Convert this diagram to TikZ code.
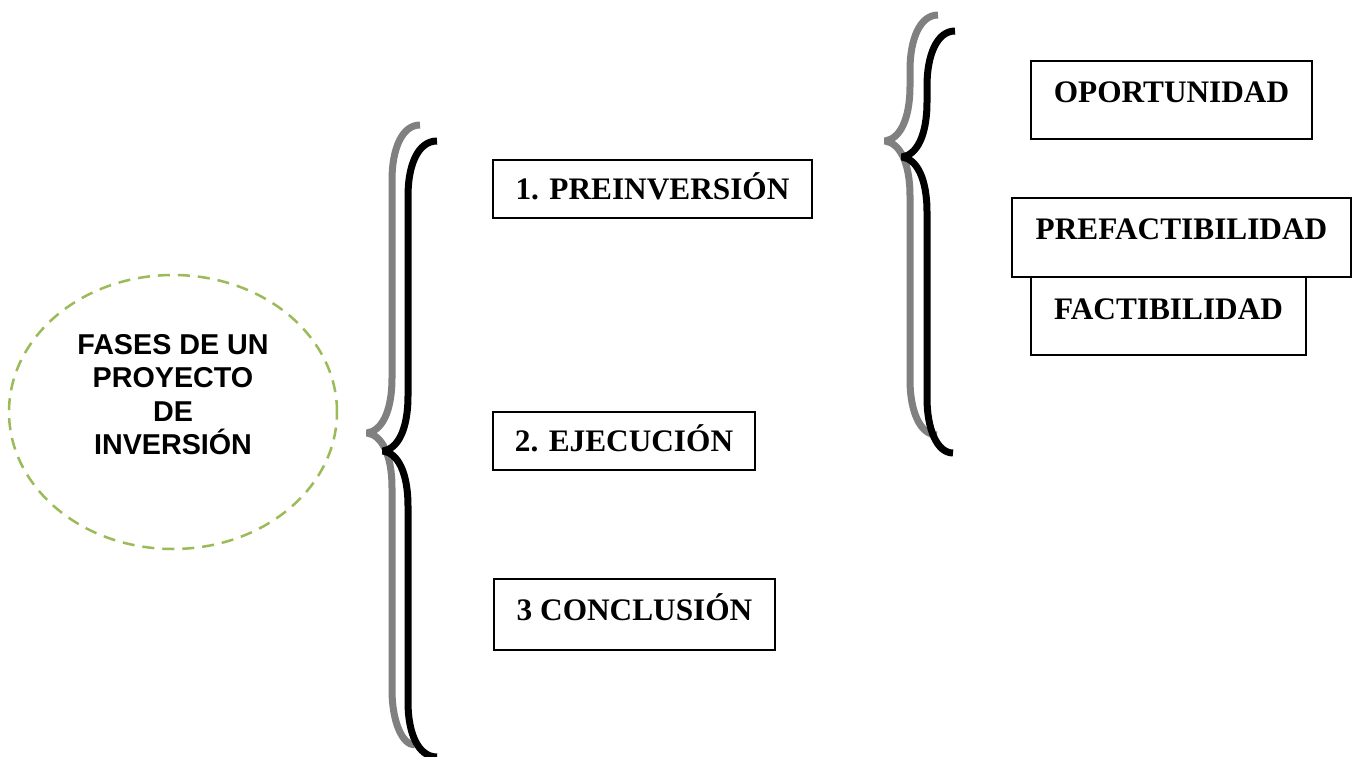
\documentclass[tikz,border=0pt]{standalone}
\usepackage{fontspec}
\setmainfont{Liberation Serif}
\newfontfamily\headfont{Liberation Sans}
\usetikzlibrary{shapes.geometric}
\definecolor{oliveline}{HTML}{9BBB59}
\definecolor{braceshadow}{RGB}{128,128,128}

% a curly brace opening to the right: top end, stem x, tip, bottom end
\newcommand{\curlybrace}[7]{% #1 style, #2 x end top, #3 y top, #4 stem x, #5 y tip, #6 x end bottom, #7 y bottom
  \draw[#1] (#2,#3) .. controls (#4+10,#3) and (#4,#3+24) .. (#4,#3+55)
    -- (#4,#5-55) .. controls (#4,#5-22) and (#4-10,#5-2) .. (#4-25,#5)
    .. controls (#4-10,#5+2) and (#4,#5+22) .. (#4,#5+55)
    -- (#4,#7-55) .. controls (#4,#7-24) and (#4+10,#7) .. (#6,#7);
}

\tikzset{
  phasebox/.style={draw, line width=1.5pt, rectangle, inner sep=0pt,
    font=\bfseries\fontsize{31.3}{36}\selectfont, text height=21pt},
  bracegray/.style={draw=braceshadow, line width=7pt, line join=bevel},
  braceblack/.style={draw=black, line width=7pt, line join=bevel},
}

\begin{document}
\begin{tikzpicture}[x=1pt, y=-1pt]
  \useasboundingbox (0,0) rectangle (1353,757);
  \fill[white] (0,0) rectangle (1353,757);

  % title ellipse
  \node (fases) [ellipse, draw=oliveline, line width=2.5pt,
    dash pattern=on 12pt off 8pt, minimum width=328pt, minimum height=274pt,
    inner sep=0pt] at (173,412) {};
  \node (fasestext) [align=center, inner sep=0pt,
    font=\headfont\bfseries\fontsize{28.7}{33.5}\selectfont] at (173,394.5)
    {FASES DE UN\\PROYECTO\\DE\\INVERSIÓN};

  % main brace
  \curlybrace{bracegray}{420}{125}{392}{433}{415}{745}
  \curlybrace{braceblack}{437}{141}{408}{451}{437}{757}

  % phases
  \node (pre) [phasebox, minimum width=319pt, minimum height=58pt, text depth=0pt]
    at (652.5,189) {1. PREINVERSIÓN};
  \node (eje) [phasebox, minimum width=262pt, minimum height=58pt, text depth=0pt]
    at (624,441) {2. EJECUCIÓN};
  \node (con) [phasebox, minimum width=281pt, minimum height=71pt, text depth=10pt]
    at (634.5,614.5) {3 CONCLUSIÓN};

  % pre-investment brace
  \curlybrace{bracegray}{938}{15}{910}{141}{937}{435}
  \curlybrace{braceblack}{955}{31}{927}{157}{953}{453}

  % pre-investment stages
  \node (opo) [phasebox, minimum width=281pt, minimum height=78pt, text depth=15pt]
    at (1171.5,100) {OPORTUNIDAD};
  \node (prefac) [phasebox, minimum width=339pt, minimum height=79pt, text depth=17pt]
    at (1181.5,237.5) {PREFACTIBILIDAD};
  \node (fac) [phasebox, minimum width=275pt, minimum height=78pt, text depth=15pt]
    at (1168.5,316) {FACTIBILIDAD};
\end{tikzpicture}
\end{document}
